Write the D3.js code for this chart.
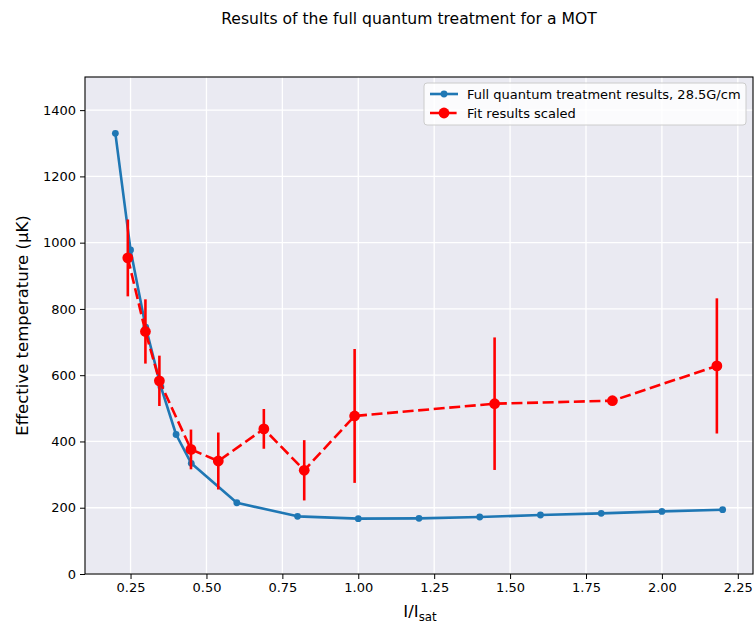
<!DOCTYPE html>
<html>
<head>
<meta charset="utf-8">
<script src="https://cdn.jsdelivr.net/npm/d3@7"></script>
<style>
  html, body { margin: 0; padding: 0; background: #ffffff; }
  svg { display: block; font-family: "DejaVu Sans", sans-serif; }
</style>
</head>
<body>
<svg id="chart" width="755" height="627"></svg>
<script>
// Full quantum treatment (28.5 G/cm) effective temperature vs intensity
const quantumIntensity = [0.2, 0.25, 0.3, 0.35, 0.4, 0.45, 0.6, 0.8, 1.0, 1.2, 1.4, 1.6, 1.8, 2.0, 2.2];
const quantumTemperature = [1330, 978, 745, 565, 421, 334, 215, 174, 167, 168, 172, 178, 183, 189, 194];

// Scaled fit results with their uncertainties
const fitIntensity = [0.241, 0.299, 0.345, 0.449, 0.539, 0.689, 0.822, 0.988, 1.449, 1.837, 2.181];
const fitTemperature = [954, 732, 583, 376, 341, 438, 313, 477, 514, 523, 628];
const fitError = [116, 97, 76, 60, 86, 60, 91, 202, 200, 12, 204];

const xTicks = [0.25, 0.5, 0.75, 1.0, 1.25, 1.5, 1.75, 2.0, 2.25];
const yTicks = [0, 200, 400, 600, 800, 1000, 1200, 1400];

const seriesNames = ["Full quantum treatment results, 28.5G/cm", "Fit results scaled"];
const titleText = "Results of the full quantum treatment for a MOT";
const yLabelText = "Effective temperature (\u00b5K)";

const svg = d3.select("#chart");
const plot = { left: 85, right: 753, top: 77, bottom: 574 };

const x = d3.scaleLinear().domain([0.1, 2.3]).range([plot.left, plot.right]);
const y = d3.scaleLinear().domain([0, 1500]).range([plot.bottom, plot.top]);

const blue = "#1f77b4";
const red = "#ff0000";
const tickFont = 13;

// Axes background
svg.append("rect")
  .attr("x", plot.left).attr("y", plot.top)
  .attr("width", plot.right - plot.left).attr("height", plot.bottom - plot.top)
  .attr("fill", "#eaeaf2");

// Grid
const grid = svg.append("g").attr("stroke", "#ffffff").attr("stroke-width", 1.3);
grid.selectAll("line.gx").data(xTicks).join("line")
  .attr("x1", d => x(d)).attr("x2", d => x(d))
  .attr("y1", plot.top).attr("y2", plot.bottom);
grid.selectAll("line.gy").data(yTicks).join("line")
  .attr("y1", d => y(d)).attr("y2", d => y(d))
  .attr("x1", plot.left).attr("x2", plot.right);

svg.append("clipPath").attr("id", "plotclip")
  .append("rect")
  .attr("x", plot.left).attr("y", plot.top)
  .attr("width", plot.right - plot.left).attr("height", plot.bottom - plot.top);

const layer = svg.append("g").attr("clip-path", "url(#plotclip)");

// Quantum treatment curve
const quantumPts = quantumIntensity.map((v, i) => [v, quantumTemperature[i]]);
const line = d3.line().x(d => x(d[0])).y(d => y(d[1]));
layer.append("path")
  .datum(quantumPts)
  .attr("d", line)
  .attr("fill", "none").attr("stroke", blue).attr("stroke-width", 2.6)
  .attr("stroke-linejoin", "round");
layer.selectAll("circle.q").data(quantumPts).join("circle")
  .attr("class", "q")
  .attr("cx", d => x(d[0])).attr("cy", d => y(d[1]))
  .attr("r", 3.4).attr("fill", blue);

// Fit results with error bars
const fitPts = fitIntensity.map((v, i) => [v, fitTemperature[i], fitError[i]]);
layer.append("path")
  .datum(fitPts)
  .attr("d", line)
  .attr("fill", "none").attr("stroke", red).attr("stroke-width", 2.6)
  .attr("stroke-dasharray", "11,4.6");
layer.selectAll("line.err").data(fitPts).join("line")
  .attr("class", "err")
  .attr("x1", d => x(d[0])).attr("x2", d => x(d[0]))
  .attr("y1", d => y(d[1] - d[2])).attr("y2", d => y(d[1] + d[2]))
  .attr("stroke", red).attr("stroke-width", 2.6);
layer.selectAll("circle.f").data(fitPts).join("circle")
  .attr("class", "f")
  .attr("cx", d => x(d[0])).attr("cy", d => y(d[1]))
  .attr("r", 5.4).attr("fill", red);

// Frame
svg.append("rect")
  .attr("x", plot.left).attr("y", plot.top)
  .attr("width", plot.right - plot.left).attr("height", plot.bottom - plot.top)
  .attr("fill", "none").attr("stroke", "#000").attr("stroke-width", 1.1);

// Axes
const xAxis = svg.append("g")
  .attr("transform", `translate(0,${plot.bottom})`)
  .call(d3.axisBottom(x).tickValues(xTicks).tickFormat(d3.format(".2f")).tickSizeOuter(0).tickSize(5).tickPadding(4));
const yAxis = svg.append("g")
  .attr("transform", `translate(${plot.left},0)`)
  .call(d3.axisLeft(y).tickValues(yTicks).tickFormat(d3.format("d")).tickSizeOuter(0).tickSize(5).tickPadding(4));
[xAxis, yAxis].forEach(g => {
  g.select(".domain").remove();
  g.selectAll("line").attr("stroke", "#000").attr("stroke-width", 1);
  g.selectAll("text").attr("font-family", "DejaVu Sans").attr("font-size", tickFont).attr("fill", "#000");
});

// Title
svg.append("text")
  .attr("x", 409).attr("y", 24)
  .attr("text-anchor", "middle")
  .attr("font-size", 15.6).attr("fill", "#000")
  .text(titleText);

// X label with subscript
const xl = svg.append("text")
  .attr("x", 420).attr("y", 617)
  .attr("text-anchor", "middle")
  .attr("font-size", 16.5).attr("fill", "#000");
xl.append("tspan").text("I/I");
xl.append("tspan").attr("dy", 4).attr("font-size", 11.8).text("sat");

// Y label
svg.append("text")
  .attr("transform", `translate(28,${(plot.top + plot.bottom) / 2}) rotate(-90)`)
  .attr("text-anchor", "middle")
  .attr("font-size", 16.5).attr("fill", "#000")
  .text(yLabelText);

// Legend
const legend = svg.append("g").attr("transform", "translate(424,83)");
legend.append("rect")
  .attr("x", 0).attr("y", 0).attr("width", 322).attr("height", 42)
  .attr("rx", 3).attr("fill", "#ffffff").attr("fill-opacity", 0.8)
  .attr("stroke", "#cccccc").attr("stroke-width", 1);
const rows = [
  { name: seriesNames[0], color: blue, dash: null, r: 3.4 },
  { name: seriesNames[1], color: red, dash: "11,4.6", r: 5.4 }
];
rows.forEach((row, i) => {
  const cy = 11 + i * 19;
  legend.append("line")
    .attr("x1", 6).attr("x2", 34).attr("y1", cy).attr("y2", cy)
    .attr("stroke", row.color).attr("stroke-width", 2.6)
    .attr("stroke-dasharray", row.dash);
  legend.append("circle").attr("cx", 20).attr("cy", cy).attr("r", row.r).attr("fill", row.color);
  legend.append("text")
    .attr("x", 43).attr("y", cy).attr("dy", "0.35em")
    .attr("font-size", tickFont).attr("fill", "#000")
    .text(row.name);
});
</script>
</body>
</html>
